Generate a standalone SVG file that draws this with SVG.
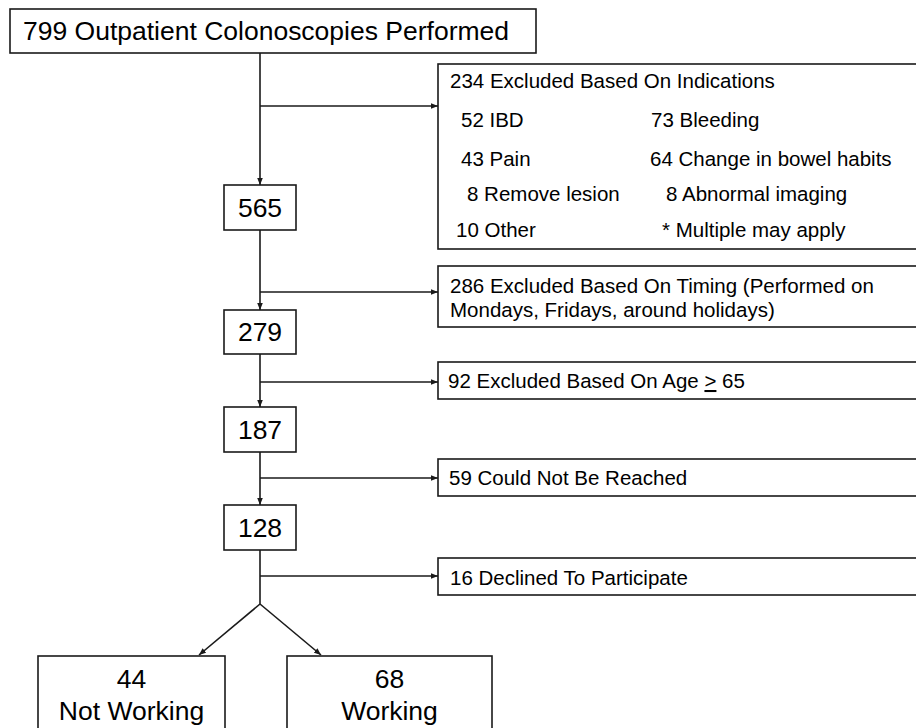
<svg xmlns="http://www.w3.org/2000/svg" width="916" height="728" viewBox="0 0 916 728">
<style>
.box{fill:#fff;stroke:#1a1a1a;stroke-width:1.6}
.t{font-family:"Liberation Sans",Arial,sans-serif;fill:#000}
.big{font-size:26.5px}
.sm{font-size:20.5px}
.c{text-anchor:middle}
.ln{stroke:#1a1a1a;stroke-width:1.6;fill:none}
</style>
<defs>
<marker id="ah" viewBox="0 0 10 10" refX="10" refY="5" markerWidth="7" markerHeight="7" markerUnits="userSpaceOnUse" orient="auto">
<path d="M0,1 L10,5 L0,9 Z" fill="#1a1a1a"/>
</marker>
</defs>
<rect width="916" height="728" fill="#fff"/>
<g id="connectors">
<line class="ln" x1="260" y1="53" x2="260" y2="185" marker-end="url(#ah)"/>
<line class="ln" x1="260" y1="106" x2="438" y2="106" marker-end="url(#ah)"/>
<line class="ln" x1="260" y1="230" x2="260" y2="310" marker-end="url(#ah)"/>
<line class="ln" x1="260" y1="292" x2="438" y2="292" marker-end="url(#ah)"/>
<line class="ln" x1="260" y1="354" x2="260" y2="407" marker-end="url(#ah)"/>
<line class="ln" x1="260" y1="382" x2="438" y2="382" marker-end="url(#ah)"/>
<line class="ln" x1="260" y1="452" x2="260" y2="505" marker-end="url(#ah)"/>
<line class="ln" x1="260" y1="478" x2="438" y2="478" marker-end="url(#ah)"/>
<line class="ln" x1="260" y1="550" x2="260" y2="604"/>
<line class="ln" x1="260" y1="576" x2="438" y2="576" marker-end="url(#ah)"/>
<line class="ln" x1="260" y1="604" x2="199" y2="655" marker-end="url(#ah)"/>
<line class="ln" x1="260" y1="604" x2="321" y2="655" marker-end="url(#ah)"/>
</g>
<g id="n799">
<rect class="box" x="10" y="9" width="526" height="44"/>
<text class="t big" x="23" y="40" textLength="486" lengthAdjust="spacingAndGlyphs">799 Outpatient Colonoscopies Performed</text>
</g>
<g id="indications">
<rect class="box" x="438" y="64" width="490" height="185"/>
<text class="t sm" x="450" y="88">234 Excluded Based On Indications</text>
<text class="t sm" x="461" y="127">52 IBD</text>
<text class="t sm" x="651" y="127">73 Bleeding</text>
<text class="t sm" x="461" y="166">43 Pain</text>
<text class="t sm" x="650" y="166">64 Change in bowel habits</text>
<text class="t sm" x="467" y="201">8 Remove lesion</text>
<text class="t sm" x="666" y="201">8 Abnormal imaging</text>
<text class="t sm" x="456" y="237">10 Other</text>
<text class="t sm" x="662" y="237">* Multiple may apply</text>
</g>
<g id="n565">
<rect class="box" x="224" y="185" width="72" height="45"/>
<text class="t big c" x="260" y="217">565</text>
</g>
<g id="timing">
<rect class="box" x="438" y="266" width="490" height="61"/>
<text class="t sm" x="450" y="293">286 Excluded Based On Timing (Performed on</text>
<text class="t sm" x="450" y="317">Mondays, Fridays, around holidays)</text>
</g>
<g id="n279">
<rect class="box" x="224" y="310" width="72" height="44"/>
<text class="t big c" x="260" y="341">279</text>
</g>
<g id="age">
<rect class="box" x="438" y="362" width="490" height="37"/>
<text class="t sm" x="448" y="388">92 Excluded Based On Age <tspan text-decoration="underline">&gt;</tspan> 65</text>
</g>
<g id="n187">
<rect class="box" x="224" y="407" width="72" height="45"/>
<text class="t big c" x="260" y="439">187</text>
</g>
<g id="reached">
<rect class="box" x="438" y="459" width="490" height="37"/>
<text class="t sm" x="449" y="485">59 Could Not Be Reached</text>
</g>
<g id="n128">
<rect class="box" x="224" y="505" width="72" height="45"/>
<text class="t big c" x="260" y="537">128</text>
</g>
<g id="declined">
<rect class="box" x="438" y="558" width="490" height="37"/>
<text class="t sm" x="450" y="585">16 Declined To Participate</text>
</g>
<g id="notworking">
<rect class="box" x="38" y="656" width="187" height="90"/>
<text class="t big c" x="131.5" y="688">44</text>
<text class="t big c" x="131.5" y="720">Not Working</text>
</g>
<g id="working">
<rect class="box" x="287" y="656" width="205" height="90"/>
<text class="t big c" x="389.5" y="688">68</text>
<text class="t big c" x="389.5" y="720">Working</text>
</g>
</svg>
